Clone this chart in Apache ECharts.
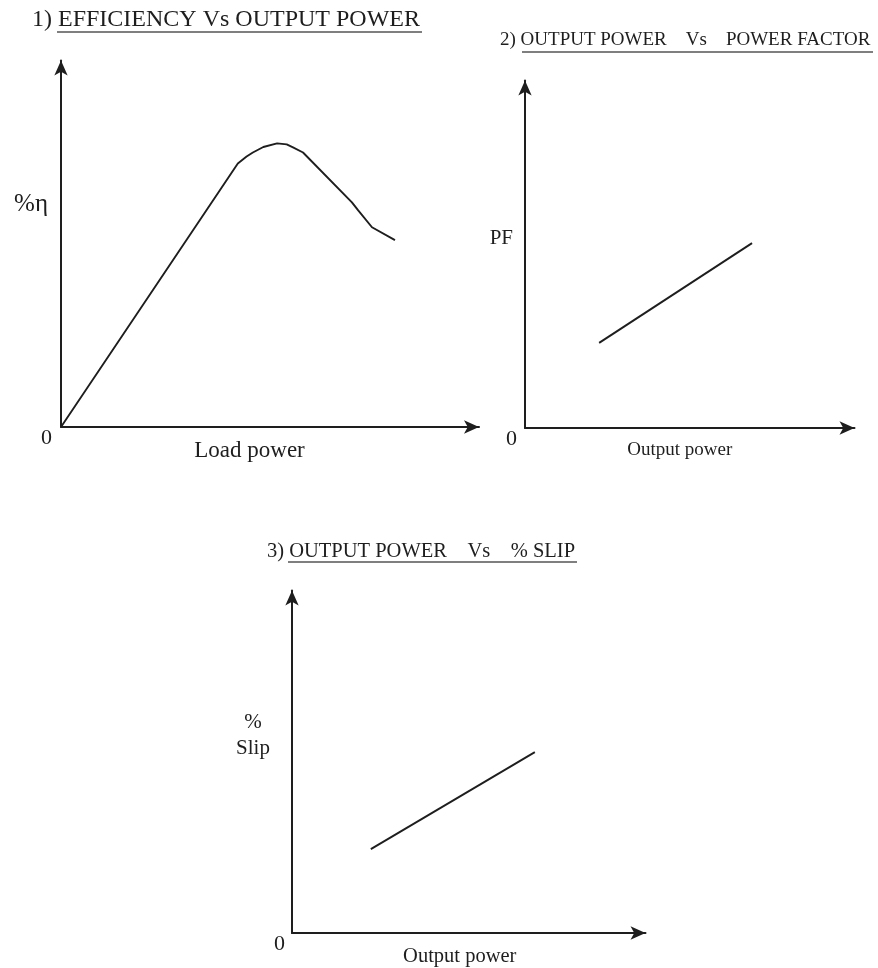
<!DOCTYPE html>
<html>
<head>
<meta charset="utf-8">
<title>Induction motor performance characteristics</title>
<script src="https://cdn.jsdelivr.net/npm/echarts@6/dist/echarts.min.js"></script>
<style>
  html, body { margin: 0; padding: 0; background: #ffffff; }
  #chart { width: 878px; height: 968px; }
</style>
</head>
<body>
<div id="chart"></div>
<script>
// Chart titles
const titles = [
  '1) EFFICIENCY Vs OUTPUT POWER',
  '2) OUTPUT POWER    Vs    POWER FACTOR',
  '3) OUTPUT POWER    Vs    % SLIP'
];

// Axis names
const xNames = ['Load power', 'Output power', 'Output power'];
const yNames = ['%η', 'PF', '%\nSlip'];

// 1) Efficiency against load power (relative units, 0–100)
const effLoad = [0, 42.3, 44.4, 45.9, 48.4, 51.7, 54.0, 55.5, 57.9, 69.6, 71.1, 74.4, 79.9];
const effPct  = [0, 71.9, 73.8, 74.9, 76.4, 77.4, 77.1, 76.3, 74.9, 61.3, 59.1, 54.5, 51.0];

// 2) Power factor against output power
const pfOutput = [22.5, 68.9];
const pfValue  = [24.5, 53.2];

// 3) Slip against output power
const slipOutput = [22.3, 68.7];
const slipValue  = [24.5, 52.8];

const FONT = '"Liberation Serif", "Times New Roman", serif';
const INK = '#1e1e1e';

const pairs = (xs, ys) => xs.map((x, i) => [x, ys[i]]);

const grids = [
  { left: 61,  top: 60.5,  width: 418,   height: 366.5 },
  { left: 525, top: 80.5,  width: 329.5, height: 347.5 },
  { left: 292, top: 590.5, width: 353.5, height: 342.5 }
];

// per-chart text layout
const xNameStyle = [
  { size: 23, gap: 12, shift: 41 },
  { size: 19, gap: 13, shift: 20 },
  { size: 20.5, gap: 13, shift: 18 }
];
const yNameStyle = [
  { size: 25, gap: 13, lift: 79, align: 'right',  valign: 'middle', lineHeight: 26 },
  { size: 21, gap: 12, lift: 32, align: 'right',  valign: 'middle', lineHeight: 22 },
  { size: 21, gap: 39, lift: 0,  align: 'center', valign: 'bottom', lineHeight: 26 }
];
const zeroMargin = [9, 8, 7];

const axisLine = {
  show: true,
  symbol: ['none', 'arrow'],
  symbolSize: [10, 15],
  lineStyle: { color: INK, width: 2 }
};

const xAxes = grids.map((g, i) => ({
  type: 'value',
  gridIndex: i,
  min: 0, max: 100, interval: 100,
  axisLine: axisLine,
  axisTick: { show: false },
  axisLabel: { show: false },
  splitLine: { show: false },
  name: xNames[i],
  nameLocation: 'middle',
  nameGap: xNameStyle[i].gap,
  nameTextStyle: {
    fontFamily: FONT,
    fontSize: xNameStyle[i].size,
    color: INK,
    verticalAlign: 'top',
    padding: [0, xNameStyle[i].shift, 0, 0]
  }
}));

// single-line y names are lifted with a padded rich token; the two-line one sits on its baseline
const yAxes = grids.map((g, i) => {
  const s = yNameStyle[i];
  const base = { fontFamily: FONT, fontSize: s.size, lineHeight: s.lineHeight, color: INK, align: s.align };
  const text = s.lift ? '{lift|' + yNames[i] + '}' : yNames[i];
  return {
    type: 'value',
    gridIndex: i,
    min: 0, max: 100, interval: 100,
    axisLine: axisLine,
    axisTick: { show: false },
    splitLine: { show: false },
    axisLabel: {
      show: true,
      margin: zeroMargin[i],
      fontFamily: FONT,
      fontSize: 22,
      color: INK,
      verticalAlign: 'top',
      formatter: v => (v === 0 ? '0' : '')
    },
    name: text,
    nameLocation: 'middle',
    nameRotate: 0,
    nameGap: s.gap,
    nameMoveOverlap: false,
    nameTextStyle: Object.assign({}, base, {
      verticalAlign: s.valign,
      rich: { lift: Object.assign({}, base, { padding: [0, 0, s.lift, 0] }) }
    })
  };
});

const lineSeries = (xs, ys, i) => ({
  type: 'line',
  xAxisIndex: i,
  yAxisIndex: i,
  data: pairs(xs, ys),
  showSymbol: false,
  symbol: 'none',
  smooth: false,
  lineStyle: { color: INK, width: 1.9, join: 'round' },
  silent: true
});

const titleLayout = [
  { left: 32,  top: 8,   size: 24 },
  { left: 500, top: 31,  size: 19 },
  { left: 267, top: 541, size: 20.5 }
];

// underlines beneath the title wording
const underlines = [
  { x1: 57,  x2: 422, y: 32 },
  { x1: 522, x2: 873, y: 52 },
  { x1: 288, x2: 577, y: 562 }
];

const chart = echarts.init(document.getElementById('chart'), null, { renderer: 'canvas' });

chart.setOption({
  backgroundColor: '#ffffff',
  animation: false,
  title: titles.map((t, i) => ({
    text: t,
    left: titleLayout[i].left,
    top: titleLayout[i].top,
    padding: 0,
    textStyle: {
      fontFamily: FONT,
      fontSize: titleLayout[i].size,
      fontWeight: 'normal',
      color: INK
    }
  })),
  grid: grids.map(g => Object.assign({ outerBoundsMode: 'none', containLabel: false }, g)),
  xAxis: xAxes,
  yAxis: yAxes,
  series: [
    lineSeries(effLoad, effPct, 0),
    lineSeries(pfOutput, pfValue, 1),
    lineSeries(slipOutput, slipValue, 2)
  ],
  graphic: underlines.map(u => ({
    type: 'line',
    silent: true,
    shape: { x1: u.x1, y1: u.y, x2: u.x2, y2: u.y },
    style: { stroke: '#555', lineWidth: 1.4 }
  }))
});
</script>
</body>
</html>
